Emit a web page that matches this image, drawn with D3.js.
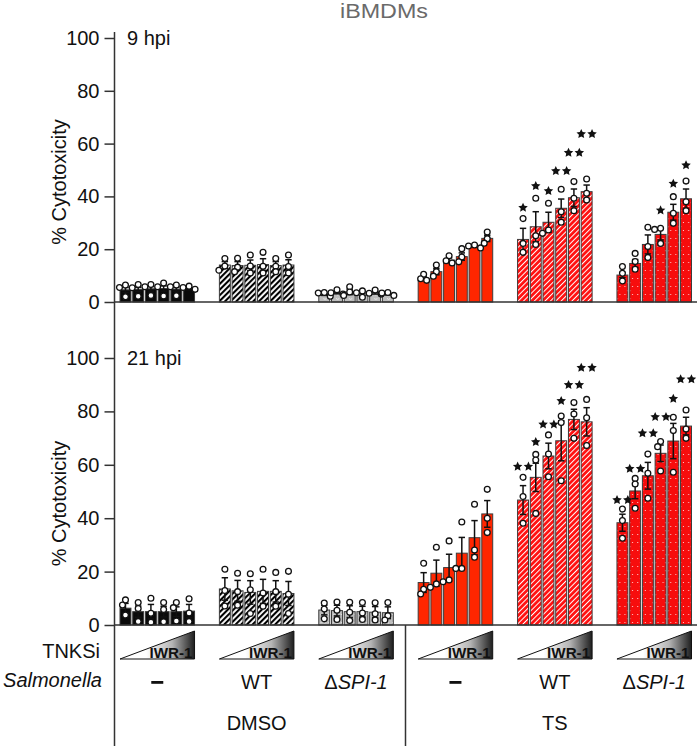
<!DOCTYPE html>
<html><head><meta charset="utf-8">
<script src="https://cdn.jsdelivr.net/npm/d3@7/dist/d3.min.js"></script>
<style>
body{margin:0;background:#fff}
text{font-family:"Liberation Sans",Arial,Helvetica,sans-serif;fill:#111}
</style>
</head><body>
<svg id="chart" width="700" height="746"></svg>
<script>
// ---------------- DATA ----------------
const title = "iBMDMs";
const yLabel = "% Cytotoxicity";
const salmonellaLabels = ["–", "WT", "ΔSPI-1", "–", "WT", "ΔSPI-1"];
const treatmentLabels = ["DMSO", "TS"];
const doseLabels = ["IWR-1 d1", "IWR-1 d2", "IWR-1 d3", "IWR-1 d4", "IWR-1 d5", "IWR-1 d6"];
const drugLabel = "IWR-1";
const yTicks = [0, 20, 40, 60, 80, 100];
const panelLabels = ["9 hpi", "21 hpi"];

// 9 hpi : bar means per group (6 doses each)
const hpi9Means = [
  [4.6, 4.7, 5.0, 5.1, 4.9, 5.1],
  [14.0, 13.8, 13.9, 14.2, 13.8, 14.0],
  [3.0, 3.6, 3.8, 3.1, 3.5, 3.1],
  [9.0, 11.5, 15.9, 17.2, 21.0, 24.1],
  [23.7, 28.5, 30.2, 35.5, 39.5, 41.8],
  [10.2, 14.6, 21.8, 25.6, 34.0, 39.1]
];
const hpi9Sem = [
  [0.9, 0.8, 0.9, 1.0, 0.8, 0.5],
  [1.3, 1.5, 2.0, 2.2, 1.5, 2.0],
  [0.5, 0.5, 1.0, 0.7, 0.5, 0.4],
  [0.6, 1.2, 0.8, 1.4, 0.3, 1.2],
  [4.2, 5.7, 3.8, 3.5, 3.3, 2.5],
  [1.0, 1.5, 3.6, 2.1, 3.0, 3.7]
];
const hpi9Points = [
  [[6.4,5.5,2.0],[6.6,5.4,2.2],[6.6,5.8,2.5],[7.2,5.8,2.3],[6.4,5.8,2.4],[6.0,5.5,4.8]],
  [[16.5,13.6,12.0],[16.6,13.2,11.5],[17.8,13.6,11.0],[18.8,13.5,11.0],[16.5,13.5,11.5],[17.8,13.4,11.0]],
  [[3.6,3.4,2.2],[4.6,3.5,3.0],[5.8,3.8,2.5],[4.2,3.5,1.8],[4.5,3.3,3.0],[3.6,3.4,2.5]],
  [[10.5,8.8,8.2],[14.0,11.5,9.8],[17.5,15.6,14.8],[20.2,17.0,15.2],[21.6,21.2,20.5],[26.5,24.0,22.3]],
  [[31.6,22.2,18.8],[39.3,25.1,21.8],[37.4,27.3,26.0],[42.7,34.2,30.2],[45.6,39.3,34.6],[46.6,41.2,38.6]],
  [[13.4,10.9,8.0],[18.4,15.3,12.4],[28.3,21.0,16.9],[27.9,27.5,22.2],[39.9,33.6,29.8],[45.8,38.0,34.6]]
];
const hpi9StarText = [
  ["","","","","",""],["","","","","",""],["","","","","",""],["","","","","",""],
  ["*","*","*","**","**","**"],
  ["","","","*","*","*"]
];
const hpi9StarLevel = [
  [0,0,0,0,0,0],[0,0,0,0,0,0],[0,0,0,0,0,0],[0,0,0,0,0,0],
  [36.1, 44.3, 42.4, 50.0, 56.9, 64.0],
  [0, 0, 0, 35.1, 45.2, 52.2]
];

// 21 hpi
const hpi21Means = [
  [6.3, 5.0, 5.0, 5.0, 5.0, 5.2],
  [13.5, 12.8, 12.2, 12.6, 12.6, 11.8],
  [5.6, 5.4, 5.0, 5.0, 4.8, 4.6],
  [15.9, 19.4, 21.5, 26.9, 32.7, 41.6],
  [46.8, 55.3, 63.3, 69.0, 77.0, 76.1],
  [38.3, 50.2, 55.9, 64.3, 68.9, 74.5]
];
const hpi21Sem = [
  [1.8, 2.1, 2.7, 2.0, 1.8, 2.5],
  [4.2, 3.9, 4.4, 4.5, 4.0, 4.5],
  [1.8, 2.0, 2.2, 2.0, 2.1, 2.2],
  [3.7, 4.9, 5.0, 5.9, 6.4, 5.0],
  [5.4, 5.3, 4.8, 7.5, 3.8, 5.3],
  [3.2, 2.9, 5.0, 3.1, 6.6, 3.3]
];
const hpi21Points = [
  [[9.4,7.5,3.7],[8.4,6.2,1.3],[10.0,4.4,1.0],[8.4,5.8,1.2],[8.4,6.5,1.5],[9.8,4.5,1.3]],
  [[20.9,12.9,7.1],[19.4,12.5,7.4],[19.2,13.2,4.3],[20.9,12.0,7.0],[19.7,12.5,7.0],[20.1,11.5,4.3]],
  [[8.2,6.0,2.3],[8.6,5.5,2.1],[8.5,4.8,1.7],[8.4,4.5,2.1],[8.3,4.2,1.9],[8.4,3.5,1.9]],
  [[23.1,13.4,11.6],[29.1,15.4,14.1],[31.5,16.9,16.2],[38.6,21.2,21.2],[45.2,28.1,25.4],[50.8,40.0,34.6]],
  [[55.3,48.1,38.1],[63.9,61.8,41.8],[71.2,64.0,55.5],[78.3,75.8,54.0],[83.3,79.0,69.9],[84.5,77.6,67.2]],
  [[43.4,39.1,32.5],[54.9,52.8,43.7],[64.0,56.8,47.5],[68.7,66.8,57.7],[77.8,72.8,57.2],[80.5,73.4,69.9]]
];
const hpi21StarText = [
  ["","","","","",""],["","","","","",""],["","","","","",""],["","","","","",""],
  ["**","*","**","*","**","**"],
  ["**","**","**","**","*","**"]
];
const hpi21StarLevel = [
  [0,0,0,0,0,0],[0,0,0,0,0,0],[0,0,0,0,0,0],[0,0,0,0,0,0],
  [59.7, 68.9, 75.5, 84.3, 90.3, 96.7],
  [47.2, 58.9, 72.2, 78.3, 85.1, 92.4]
];

// ---------------- CHART ----------------
const svg = d3.select("#chart");
const groupIds = d3.range(salmonellaLabels.length);
const x = d3.scaleBand().domain(groupIds).range([120, 691.5]).paddingInner(0.25).paddingOuter(0);
const xi = d3.scaleBand().domain(d3.range(doseLabels.length)).range([0, x.bandwidth()]).paddingInner(0.14).paddingOuter(0);
const axisX = 114.5;

const defs = svg.append("defs");
// black hatch
const ph = defs.append("pattern").attr("id","hatchBlack").attr("patternUnits","userSpaceOnUse")
  .attr("width",4).attr("height",4).attr("patternTransform","rotate(45)");
ph.append("rect").attr("width",4).attr("height",4).attr("fill","#fff");
ph.append("rect").attr("x",0).attr("y",0).attr("width",2.1).attr("height",4).attr("fill","#000");
// red hatch
const pr = defs.append("pattern").attr("id","hatchRed").attr("patternUnits","userSpaceOnUse")
  .attr("width",3.8).attr("height",3.8).attr("patternTransform","rotate(45)");
pr.append("rect").attr("width",3.8).attr("height",3.8).attr("fill","#ff1010");
pr.append("rect").attr("x",0).attr("y",0).attr("width",1.0).attr("height",3.8).attr("fill","#fff");
// dotted patterns aligned to bars
function dotPattern(id, base, mark, gx) {
  const step = xi.step(), bw = xi.bandwidth();
  const p = defs.append("pattern").attr("id", id).attr("patternUnits","userSpaceOnUse")
    .attr("x", gx).attr("y", 0).attr("width", step).attr("height", 8);
  p.append("rect").attr("width", step).attr("height", 8).attr("fill", base);
  const cx = bw/2;
  p.append("path").attr("d", `M${cx-1.5},2 L${cx},4 L${cx+1.5},2`).attr("fill","none").attr("stroke",mark).attr("stroke-width",0.9);
  p.append("rect").attr("x",1.2).attr("y",6).attr("width",1).attr("height",1).attr("fill",mark);
  p.append("rect").attr("x",bw-2.2).attr("y",6).attr("width",1).attr("height",1).attr("fill",mark);
  p.append("rect").attr("x",cx-0.5).attr("y",6.5).attr("width",1).attr("height",1).attr("fill",mark);
}
dotPattern("dotGray", "#bdbdbd", "#e8e8e8", x(2));
dotPattern("dotRed", "#f70d0d", "#ffd0d0", x(5));

const fills = ["#0a0a0a", "url(#hatchBlack)", "url(#dotGray)", "#ff2600", "url(#hatchRed)", "url(#dotRed)"];

// gradient for wedge
const grad = defs.append("linearGradient").attr("id","wedge").attr("x1","0").attr("x2","1").attr("y1","0").attr("y2","0");
grad.append("stop").attr("offset","0").attr("stop-color","#fff");
grad.append("stop").attr("offset","0.35").attr("stop-color","#fff");
grad.append("stop").attr("offset","0.7").attr("stop-color","#b5b5b5");
grad.append("stop").attr("offset","1").attr("stop-color","#1e1e1e");

// fat five-point star path
function starPath(ro, ri) {
  const pts = [];
  for (let k = 0; k < 10; k++) {
    const r = k % 2 ? ri : ro;
    const a = -Math.PI/2 + k * Math.PI/5;
    pts.push([r*Math.cos(a), r*Math.sin(a)]);
  }
  return "M" + pts.map(p => p[0].toFixed(2) + "," + p[1].toFixed(2)).join("L") + "Z";
}
const starD = starPath(5.0, 2.4);

// title
svg.append("text").attr("x", 384).attr("y", 18).attr("text-anchor","middle")
  .style("font-size","20px").style("fill","#6a6a6a")
  .attr("textLength", 88).attr("lengthAdjust","spacingAndGlyphs").text(title);

function spread(vals, y) {
  const placed = [];
  return vals.map(v => {
    const py = y(v);
    let off = 0;
    for (const c of [0, -3, 3, -6, 6]) {
      if (placed.every(p => Math.hypot(p.x - c, p.y - py) >= 5.2)) { off = c; break; }
    }
    placed.push({x: off, y: py});
    return {v, off};
  });
}

function panel(y0, y100, means, sems, points, starText, starLevel, label) {
  const y = d3.scaleLinear().domain([0, 100]).range([y0, y100]);
  const g = svg.append("g");
  const ax = g.append("g").attr("transform", `translate(${axisX},0)`)
    .call(d3.axisLeft(y).tickValues(yTicks).tickSize(10).tickPadding(5));
  ax.select(".domain").remove();
  ax.selectAll(".tick line").attr("stroke","#333").attr("stroke-width",1.5);
  ax.selectAll(".tick text").style("font-size","20px").style("font-family","'Liberation Sans',Arial,sans-serif").attr("fill","#111");
  g.append("text").attr("transform", `translate(66,${(y0 + y100)/2 + 12}) rotate(-90)`)
    .attr("text-anchor","middle").style("font-size","20px").text(yLabel);
  g.append("text").attr("x", 127).attr("y", y100 + 7).style("font-size","20px").text(label);

  groupIds.forEach(gi => {
    const gg = g.append("g").attr("transform", `translate(${x(gi)},0)`);
    const bars = means[gi].map((m, di) => ({m, di, s: sems[gi][di], pts: points[gi][di], st: starText[gi][di], sl: starLevel[gi][di]}));
    gg.selectAll("rect.bar").data(bars).join("rect").attr("class","bar")
      .attr("x", d => xi(d.di)).attr("width", xi.bandwidth())
      .attr("y", d => y(d.m)).attr("height", d => y(0) - y(d.m))
      .attr("fill", fills[gi]).attr("stroke", "#3c3c3c").attr("stroke-width", 1);
    bars.forEach(d => {
      const cx = xi(d.di) + xi.bandwidth()/2;
      const eg = gg.append("g").attr("stroke","#111").attr("stroke-width",1.5);
      eg.append("line").attr("x1",cx).attr("x2",cx).attr("y1",y(d.m - d.s)).attr("y2",y(d.m + d.s));
      eg.append("line").attr("x1",cx-3.2).attr("x2",cx+3.2).attr("y1",y(d.m + d.s)).attr("y2",y(d.m + d.s));
      eg.append("line").attr("x1",cx-3.2).attr("x2",cx+3.2).attr("y1",y(d.m - d.s)).attr("y2",y(d.m - d.s));
      spread(d.pts, y).forEach(p => {
        gg.append("circle").attr("cx", cx + p.off).attr("cy", y(p.v)).attr("r", 2.9)
          .attr("fill","#fff").attr("stroke","#111").attr("stroke-width",1.3);
      });
      if (d.st) {
        const n = d.st.length;
        for (let k = 0; k < n; k++) {
          const sx = cx + (k - (n-1)/2) * 10.8;
          gg.append("path").attr("d", starD)
            .attr("transform", `translate(${sx},${y(d.sl) + 1})`).attr("fill","#111");
        }
      }
    });
  });
  g.append("line").attr("x1", axisX).attr("x2", 697).attr("y1", y0).attr("y2", y0)
    .attr("stroke","#333").attr("stroke-width",1.5);
}

panel(302, 38, hpi9Means, hpi9Sem, hpi9Points, hpi9StarText, hpi9StarLevel, panelLabels[0]);
panel(625, 358, hpi21Means, hpi21Sem, hpi21Points, hpi21StarText, hpi21StarLevel, panelLabels[1]);

svg.append("line").attr("x1", axisX).attr("x2", axisX).attr("y1", 32).attr("y2", 746)
  .attr("stroke","#333").attr("stroke-width",1.5);
svg.append("line").attr("x1", 405.5).attr("x2", 405.5).attr("y1", 625).attr("y2", 746)
  .attr("stroke","#333").attr("stroke-width",1.5);

svg.append("text").attr("x", 100).attr("y", 658).attr("text-anchor","end").style("font-size","20px").text("TNKSi");
svg.append("text").attr("x", 102).attr("y", 687).attr("text-anchor","end").style("font-size","20px").style("font-style","italic").text("Salmonella");

groupIds.forEach(gi => {
  const x0 = x(gi), x1 = x(gi) + x.bandwidth();
  svg.append("path").attr("d", `M${x0},659 L${x1},631 L${x1},659 Z`)
    .attr("fill","url(#wedge)").attr("stroke","#111").attr("stroke-width",1);
  svg.append("text").attr("x", x1 - 2).attr("y", 658).attr("text-anchor","end")
    .style("font-size","14px").style("font-weight","bold").attr("textLength", 43).attr("lengthAdjust","spacingAndGlyphs")
    .text(drugLabel);
  const cx = x0 + x.bandwidth()/2;
  const lab = salmonellaLabels[gi];
  if (lab === "–") {
    svg.append("rect").attr("x", cx - 6).attr("y", 681).attr("width", 12).attr("height", 2.8).attr("fill", "#111");
  } else {
    const t = svg.append("text").attr("x", cx).attr("y", 689).attr("text-anchor","middle").style("font-size","20px");
    if (lab.startsWith("Δ")) {
      t.append("tspan").text("Δ");
      t.append("tspan").style("font-style","italic").text(lab.slice(1));
    } else {
      t.text(lab);
    }
  }
});
treatmentLabels.forEach((lab, i) => {
  const cx = x(i*3 + 1) + x.bandwidth()/2;
  svg.append("text").attr("x", cx).attr("y", 730).attr("text-anchor","middle").style("font-size","20px").text(lab);
});
</script>
</body></html>
